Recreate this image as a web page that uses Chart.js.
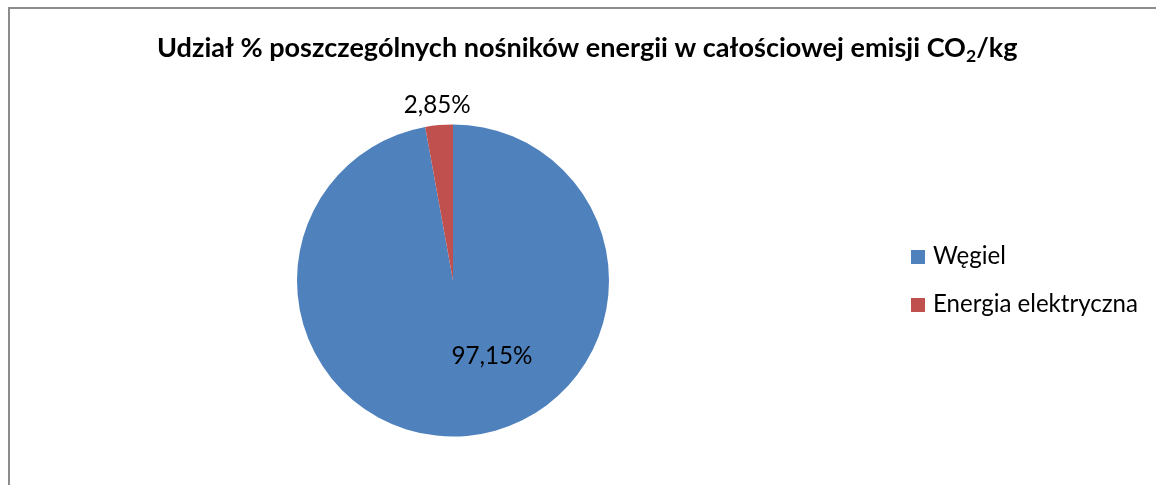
<!DOCTYPE html>
<html>
<head>
<meta charset="utf-8">
<script src="https://cdn.jsdelivr.net/npm/chart.js@4.4.0/dist/chart.umd.min.js"></script>
<style>
  html, body { margin: 0; padding: 0; background: #fff; }
  #wrap { position: relative; width: 1156px; height: 485px; overflow: hidden; }
  #frame {
    position: absolute; left: 8px; top: 7px; width: 1300px; height: 700px;
    border-left: 2px solid #8c8c8c; border-top: 2px solid #8c8c8c;
  }
  canvas { position: absolute; left: 0; top: 0; }
</style>
</head>
<body>
<div id="wrap">
  <div id="frame"></div>
  <canvas id="pieChart" width="1156" height="485"></canvas>
</div>
<script>
const labels = ["Węgiel", "Energia elektryczna"];
const shares = [97.15, 2.85];
const colors = ["#4F81BD", "#C0504D"];
const titleMain = "Udział % poszczególnych nośników energii w całościowej emisji CO";
const titleSub = "2";
const titleEnd = "/kg";

// fit a font size so that text gets the given width
function fitSize(ctx, text, weight, family, width) {
  ctx.font = `${weight} 100px ${family}`;
  return 100 * width / ctx.measureText(text).width;
}

const fmt = (v) => v.toFixed(2).replace(".", ",") + "%";

// title, data labels and legend
const extras = {
  id: "extras",
  afterDraw(chart) {
    const ctx = chart.ctx;
    const fam = "Lato, 'Open Sans', sans-serif";
    ctx.save();
    ctx.fillStyle = "#000";

    // title with subscript
    ctx.font = "bold 100px " + fam;
    const wMain = ctx.measureText(titleMain).width;
    const wEnd = ctx.measureText(titleEnd).width;
    const wSub = ctx.measureText(titleSub).width * 0.65;
    const ts = 100 * 861 / (wMain + wEnd + wSub);
    let x = 157;
    const base = 57;
    ctx.textBaseline = "alphabetic";
    ctx.textAlign = "left";
    ctx.font = `bold ${ts}px ${fam}`;
    ctx.fillText(titleMain, x, base);
    x += ctx.measureText(titleMain).width;
    ctx.font = `bold ${ts * 0.65}px ${fam}`;
    ctx.fillText(titleSub, x, base + 5);
    x += ctx.measureText(titleSub).width;
    ctx.font = `bold ${ts}px ${fam}`;
    ctx.fillText(titleEnd, x, base);

    // data labels
    const ls = fitSize(ctx, "2,85%", "normal", fam, 67);
    ctx.font = `normal ${ls}px ${fam}`;
    ctx.textAlign = "center";
    ctx.textBaseline = "middle";
    ctx.fillStyle = "#000";
    const arcs = chart.getDatasetMeta(0).data;
    arcs.forEach((arc, i) => {
      const r = arc.outerRadius;
      const mid = (arc.startAngle + arc.endAngle) / 2;
      let lx, ly;
      if (shares[i] < 10) {
        lx = arc.x + Math.cos(mid) * (r + 20);
        ly = arc.y + Math.sin(mid) * (r + 20);
      } else {
        lx = arc.x + 0.25 * r;
        ly = arc.y + 0.484 * r;
      }
      ctx.fillText(fmt(shares[i]), lx, ly);
    });

    // legend
    const gs = fitSize(ctx, labels[1], "normal", fam, 205);
    ctx.font = `normal ${gs}px ${fam}`;
    ctx.textAlign = "left";
    ctx.textBaseline = "alphabetic";
    labels.forEach((lab, i) => {
      const y = 250 + i * 48;
      ctx.fillStyle = colors[i];
      ctx.fillRect(911, y, 14, 14);
      ctx.fillStyle = "#000";
      ctx.fillText(lab, 933, y + 13.5);
    });
    ctx.restore();
  }
};

new Chart(document.getElementById("pieChart"), {
  type: "pie",
  data: {
    labels: labels,
    datasets: [
      {
        data: shares,
        backgroundColor: colors,
        borderWidth: 0,
      },
    ],
  },
  options: {
    responsive: false,
    animation: false,
    layout: { padding: { left: 297, right: 547, top: 124, bottom: 48 } },
    plugins: {
      legend: { display: false },
      tooltip: { enabled: false },
    },
  },
  plugins: [extras],
});
</script>
</body>
</html>
